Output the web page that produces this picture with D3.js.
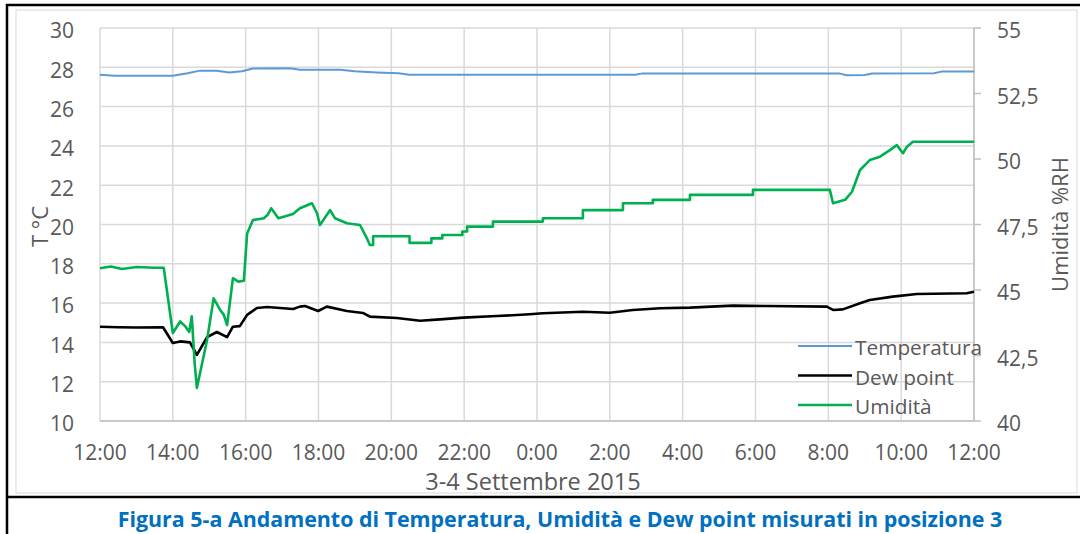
<!DOCTYPE html>
<html lang="it">
<head>
<meta charset="UTF-8">
<title>Figura 5-a</title>
<script src="https://d3js.org/d3.v7.min.js"></script>
<style>
    body { margin: 0; background: #fff; overflow: hidden; }
    text { font-family: "Open Sans", sans-serif; fill: #595959; }
</style>
</head>
<body>
<script>
// ore dalle 12:00 del 3 settembre
var tickLabels = ["12:00", "14:00", "16:00", "18:00", "20:00", "22:00", "0:00", "2:00", "4:00", "6:00", "8:00", "10:00", "12:00"];
var leftTicks = [10, 12, 14, 16, 18, 20, 22, 24, 26, 28, 30];
var rightTicks = [40, 42.5, 45, 47.5, 50, 52.5, 55];

var tempHours = [0, 0.4, 2.0, 2.4, 2.75, 3.2, 3.55, 3.9, 4.2, 5.2, 5.5, 6.6, 7.0, 7.6, 8.2, 8.5, 14.7, 14.9, 20.3, 20.5, 21.0, 21.2, 22.9, 23.1, 24];
var tempValues = [27.62, 27.57, 27.57, 27.7, 27.83, 27.82, 27.73, 27.8, 27.94, 27.95, 27.88, 27.88, 27.8, 27.74, 27.7, 27.62, 27.62, 27.69, 27.69, 27.6, 27.61, 27.68, 27.7, 27.78, 27.78];

var dewHours = [0, 0.5, 1.0, 1.73, 2.0, 2.2, 2.47, 2.66, 2.94, 3.21, 3.49, 3.65, 3.84, 4.04, 4.31, 4.59, 5.3, 5.49, 5.63, 5.99, 6.23, 6.78, 7.22, 7.41, 8.15, 8.79, 9.34, 9.97, 10.9, 11.8, 12.16, 13.26, 14.0, 14.63, 15.38, 16.2, 17.38, 18.31, 19.96, 20.13, 20.4, 20.87, 21.14, 21.77, 22.43, 23.8, 24];
var dewValues = [14.8, 14.77, 14.76, 14.77, 13.97, 14.05, 14.0, 13.36, 14.27, 14.53, 14.27, 14.8, 14.83, 15.4, 15.75, 15.8, 15.7, 15.82, 15.85, 15.6, 15.82, 15.6, 15.5, 15.31, 15.24, 15.1, 15.17, 15.26, 15.34, 15.43, 15.48, 15.56, 15.51, 15.65, 15.74, 15.77, 15.87, 15.85, 15.82, 15.65, 15.68, 15.99, 16.16, 16.33, 16.46, 16.5, 16.58];

var humHours = [0, 0.3, 0.6, 1.0, 1.5, 1.75, 2.0, 2.2, 2.35, 2.45, 2.52, 2.6, 2.66, 2.94, 3.12, 3.3, 3.4, 3.49, 3.65, 3.8, 3.95, 4.04, 4.2, 4.5, 4.6, 4.7, 4.9, 5.3, 5.49, 5.82, 5.96, 6.04, 6.32, 6.45, 6.78, 7.14, 7.33, 7.41, 7.5, 7.5, 8.5, 8.5, 9.1, 9.1, 9.4, 9.4, 9.95, 9.95, 10.08, 10.08, 10.79, 10.79, 12.16, 12.16, 13.26, 13.26, 14.36, 14.36, 15.18, 15.18, 16.2, 16.2, 17.93, 17.93, 20.04, 20.13, 20.46, 20.65, 20.87, 21.14, 21.42, 21.69, 21.88, 22.05, 22.16, 22.32, 24];
var humValues = [45.83, 45.9, 45.8, 45.88, 45.85, 45.85, 43.36, 43.8, 43.6, 43.4, 44.0, 42.2, 41.26, 43.09, 44.68, 44.24, 44.05, 43.66, 45.45, 45.32, 45.35, 47.16, 47.67, 47.74, 47.86, 48.12, 47.74, 47.9, 48.12, 48.31, 47.93, 47.48, 48.05, 47.74, 47.55, 47.48, 46.97, 46.72, 46.72, 47.05, 47.05, 46.8, 46.8, 46.97, 46.97, 47.1, 47.1, 47.23, 47.23, 47.42, 47.42, 47.61, 47.61, 47.74, 47.74, 48.05, 48.05, 48.31, 48.31, 48.44, 48.44, 48.63, 48.63, 48.82, 48.82, 48.31, 48.44, 48.75, 49.58, 49.96, 50.09, 50.34, 50.53, 50.22, 50.47, 50.66, 50.66];

var width = 1080, height = 534;
var plotLeft = 100, plotRight = 974, plotTop = 28, plotBottom = 421;

var svg = d3.select("body").append("svg")
    .attr("width", width)
    .attr("height", height);

// cornici
svg.append("rect").attr("x", 16).attr("y", 10).attr("width", 1061).attr("height", 483)
    .attr("fill", "none").attr("stroke", "#d9d9d9");
svg.append("path").attr("d", "M7,534V5H1080M7,497H1080")
    .attr("fill", "none").attr("stroke", "#000").attr("stroke-width", 2.5);

var x = d3.scaleLinear().domain([0, 24]).range([plotLeft, plotRight]);
var yL = d3.scaleLinear().domain([10, 30]).range([plotBottom, plotTop]);
var yR = d3.scaleLinear().domain([40, 55]).range([plotBottom, plotTop]);

// griglia
svg.append("g").selectAll("line").data(leftTicks).enter().append("line")
    .attr("x1", plotLeft).attr("x2", plotRight)
    .attr("y1", d => yL(d)).attr("y2", d => yL(d))
    .attr("stroke", "#d9d9d9").attr("stroke-width", 1.5);
svg.append("g").selectAll("line").data(tickLabels).enter().append("line")
    .attr("x1", (d, i) => x(i * 2)).attr("x2", (d, i) => x(i * 2))
    .attr("y1", plotTop).attr("y2", plotBottom)
    .attr("stroke", "#d9d9d9").attr("stroke-width", 1.5);

// asse destro
svg.append("line").attr("x1", plotRight).attr("x2", plotRight).attr("y1", plotTop).attr("y2", plotBottom)
    .attr("stroke", "#bfbfbf").attr("stroke-width", 1.5);
svg.append("g").selectAll("line").data(rightTicks).enter().append("line")
    .attr("x1", plotRight).attr("x2", plotRight + 7)
    .attr("y1", d => yR(d)).attr("y2", d => yR(d))
    .attr("stroke", "#bfbfbf").attr("stroke-width", 1.5);
svg.append("line").attr("x1", plotLeft).attr("x2", plotRight).attr("y1", plotBottom).attr("y2", plotBottom)
    .attr("stroke", "#bfbfbf").attr("stroke-width", 1.5);

// etichette
svg.append("g").selectAll("text").data(leftTicks).enter().append("text")
    .attr("x", 74).attr("y", d => yL(d) + 3).attr("dy", "0.35em")
    .attr("text-anchor", "end").style("font-size", "21px")
    .text(d => d);
svg.append("g").selectAll("text").data(rightTicks).enter().append("text")
    .attr("x", 997).attr("y", d => yR(d) + 3).attr("dy", "0.35em")
    .style("font-size", "21px")
    .text(d => String(d).replace(".", ","));
svg.append("g").selectAll("text").data(tickLabels).enter().append("text")
    .attr("x", (d, i) => x(i * 2)).attr("y", 453).attr("dy", "0.35em")
    .attr("text-anchor", "middle").style("font-size", "21px")
    .text(d => d);

svg.append("text").attr("x", 533).attr("y", 482).attr("dy", "0.35em")
    .attr("text-anchor", "middle").style("font-size", "23.5px")
    .text("3-4 Settembre 2015");
svg.append("text").attr("transform", "translate(40," + ((plotTop + plotBottom) / 2 + 2) + ") rotate(-90)")
    .attr("dy", "0.35em").attr("text-anchor", "middle").style("font-size", "22px")
    .text("T °C");
svg.append("text").attr("transform", "translate(1060," + ((plotTop + plotBottom) / 2) + ") rotate(-90)")
    .attr("dy", "0.35em").attr("text-anchor", "middle").style("font-size", "22px")
    .text("Umidità %RH");

// serie
var lineL = d3.line().x(d => x(d[0])).y(d => yL(d[1]));
var lineR = d3.line().x(d => x(d[0])).y(d => yR(d[1]));

var series = [
    { name: "Temperatura", color: "#5b9bd5", w: 2, path: lineL(d3.zip(tempHours, tempValues)) },
    { name: "Dew point", color: "#000000", w: 2.6, path: lineL(d3.zip(dewHours, dewValues)) },
    { name: "Umidità", color: "#00b050", w: 2.6, path: lineR(d3.zip(humHours, humValues)) }
];

svg.append("g").selectAll("path").data(series).enter().append("path")
    .attr("d", d => d.path)
    .attr("fill", "none")
    .attr("stroke", d => d.color)
    .attr("stroke-width", d => d.w)
    .attr("stroke-linejoin", "round");

// legenda
var legend = svg.append("g").selectAll("g").data(series).enter().append("g")
    .attr("transform", (d, i) => "translate(798," + (346 + i * 29.5) + ")");
legend.append("line").attr("x1", 0).attr("x2", 54)
    .attr("stroke", d => d.color).attr("stroke-width", d => d.w);
legend.append("text").attr("x", 57).attr("y", 2).attr("dy", "0.35em")
    .style("font-size", "20.8px").text(d => d.name);

// didascalia
svg.append("text").attr("x", 560).attr("y", 520).attr("dy", "0.35em")
    .attr("text-anchor", "middle")
    .style("font-size", "21.4px").style("font-weight", "bold").style("fill", "#0070c0")
    .text("Figura 5-a Andamento di Temperatura, Umidità e Dew point misurati in posizione 3");
</script>
</body>
</html>
